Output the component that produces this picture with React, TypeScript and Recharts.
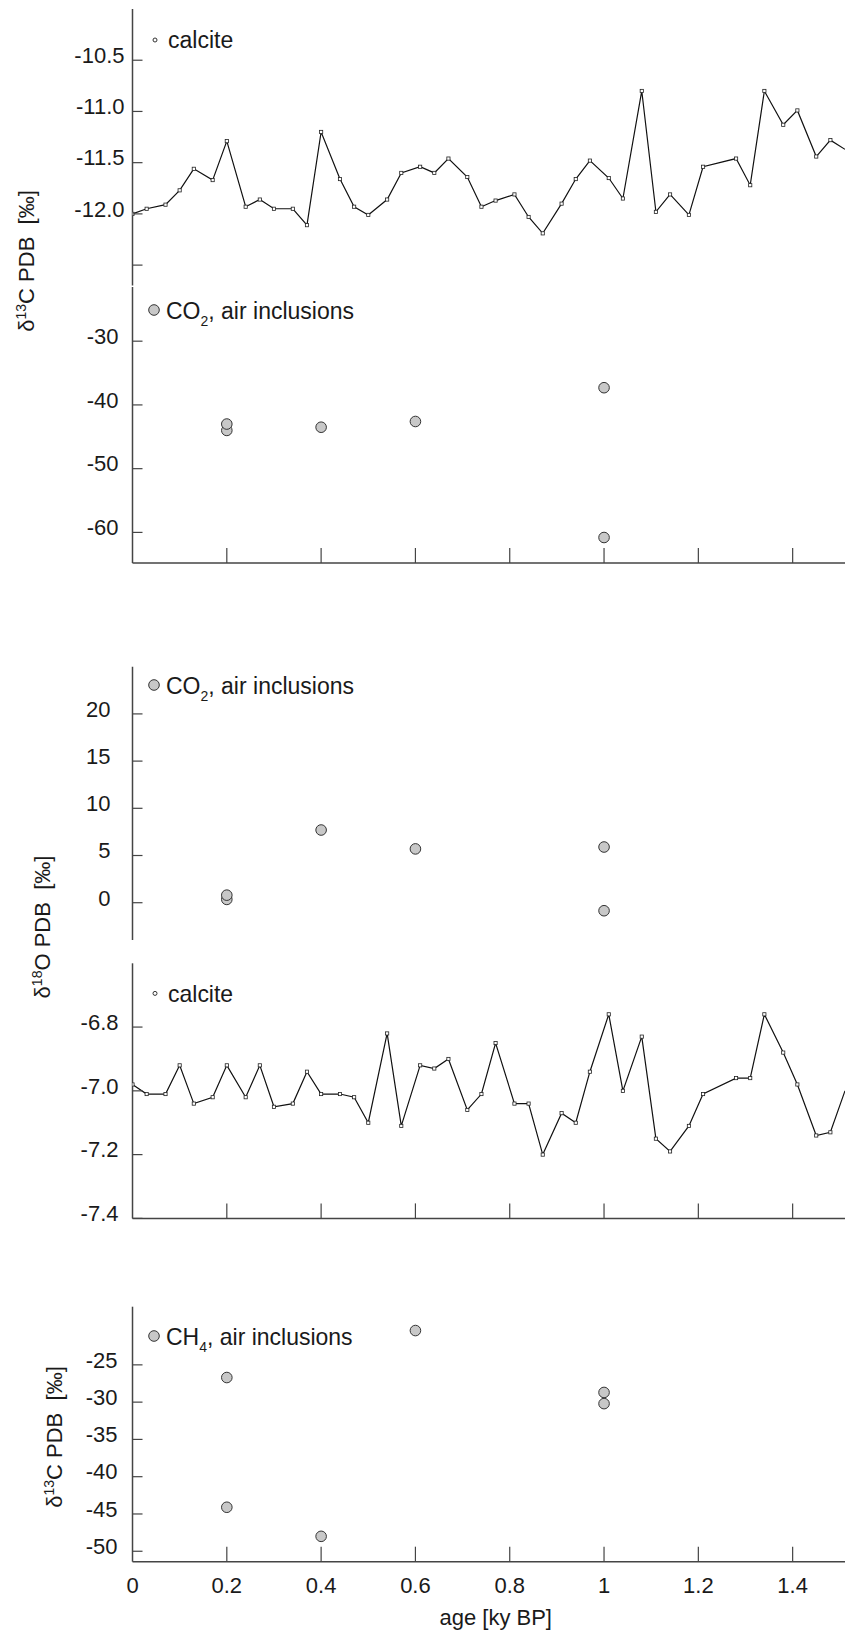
import React from 'react';
import { LineChart, Line, ScatterChart, Scatter, XAxis, YAxis, Customized } from 'recharts';

// ---- data ----
const calciteAges = [0, 0.03, 0.07, 0.1, 0.13, 0.17, 0.2, 0.24, 0.27, 0.3, 0.34, 0.37, 0.4, 0.44, 0.47, 0.5, 0.54, 0.57, 0.61, 0.64, 0.67, 0.71, 0.74, 0.77, 0.81, 0.84, 0.87, 0.91, 0.94, 0.97, 1.01, 1.04, 1.08, 1.11, 1.14, 1.18, 1.21, 1.28, 1.31, 1.34, 1.38, 1.41, 1.45, 1.48, 1.511];
const d13cCalcite = [-12.0, -11.95, -11.91, -11.77, -11.56, -11.67, -11.29, -11.93, -11.86, -11.95, -11.95, -12.11, -11.2, -11.66, -11.93, -12.01, -11.86, -11.6, -11.54, -11.6, -11.46, -11.64, -11.93, -11.87, -11.81, -12.03, -12.19, -11.9, -11.66, -11.48, -11.65, -11.85, -10.8, -11.98, -11.81, -12.01, -11.54, -11.46, -11.72, -10.8, -11.13, -10.99, -11.44, -11.28, -11.37];
const d18oCalcite = [-6.98, -7.01, -7.01, -6.92, -7.04, -7.02, -6.92, -7.02, -6.92, -7.05, -7.04, -6.94, -7.01, -7.01, -7.02, -7.1, -6.82, -7.11, -6.92, -6.93, -6.9, -7.06, -7.01, -6.85, -7.04, -7.04, -7.2, -7.07, -7.1, -6.94, -6.76, -7.0, -6.83, -7.15, -7.19, -7.11, -7.01, -6.96, -6.96, -6.76, -6.88, -6.98, -7.14, -7.13, -7.0];

const inclusionAges = [0.2, 0.2, 0.4, 0.6, 1.0, 1.0];
const d13cCO2 = [-44.0, -43.0, -43.5, -42.6, -37.3, -60.8];
const d18oCO2 = [0.35, 0.8, 7.7, 5.7, 5.9, -0.85];
const ch4Ages = [0.2, 0.2, 0.4, 0.6, 1.0, 1.0];
const d13cCH4 = [-26.7, -44.1, -48.0, -20.4, -28.7, -30.2];

const ageTicks = [0, 0.2, 0.4, 0.6, 0.8, 1, 1.2, 1.4];
const ageDomain = [0, 1.511];
const ticksC13Calcite = [-10.5, -11, -11.5, -12, -12.5];
const ticksC13CO2 = [-30, -40, -50, -60];
const ticksO18CO2 = [0, 5, 10, 15, 20];
const ticksO18Calcite = [-6.8, -7, -7.2, -7.4];
const ticksC13CH4 = [-25, -30, -35, -40, -45, -50];

const c13CalciteData = calciteAges.map((age, i) => ({ age, value: d13cCalcite[i] }));
const o18CalciteData = calciteAges.map((age, i) => ({ age, value: d18oCalcite[i] }));
const c13CO2Data = inclusionAges.map((age, i) => ({ age, value: d13cCO2[i] }));
const o18CO2Data = inclusionAges.map((age, i) => ({ age, value: d18oCO2[i] }));
const c13CH4Data = ch4Ages.map((age, i) => ({ age, value: d13cCH4[i] }));

// ---- styles ----
const FONT = '"Liberation Sans", Arial, Helvetica, sans-serif';
const TEXT = '#1a1a1a';
const AXIS = '#444';
const W = 845;
const YW = 132.5;

const axisLine = { stroke: AXIS, strokeWidth: 1.5 };

// inward tick marks drawn with the tick renderer
const makeYTick = (margin: number, fmt: (v: number) => string) => (p: any) => {
  const axisX = p.x + margin;
  return (
    <g>
      <line x1={axisX} x2={axisX + 10} y1={p.y} y2={p.y} stroke={AXIS} strokeWidth={1.2} />
      <text x={p.x} y={p.y} dy={2.8} textAnchor="end" fontSize={22} fill={TEXT} fontFamily={FONT}>
        {fmt(p.payload.value)}
      </text>
    </g>
  );
};
const makeXTick = (margin: number, showLabel: boolean) => (p: any) => {
  const axisY = p.y - margin;
  const v = p.payload.value;
  return (
    <g>
      {v !== 0 && <line x1={p.x} x2={p.x} y1={axisY} y2={axisY - 15} stroke={AXIS} strokeWidth={1.2} />}
      {showLabel && (
        <text x={p.x} y={p.y} dy={15.6} textAnchor="middle" fontSize={22} fill={TEXT} fontFamily={FONT}>
          {String(v)}
        </text>
      )}
    </g>
  );
};

const fmt1 = (v: number) => v.toFixed(1);
const fmtInt = (v: number) => String(v);

const lastIdx = calciteAges.length - 1;
const calciteDot = (p: any) => {
  if (p.index === lastIdx) return <g key={`d${p.index}`} />;
  return (
    <rect key={`d${p.index}`} x={p.cx - 1.6} y={p.cy - 1.6} width={3.2} height={3.2} fill="#fff" stroke="#222" strokeWidth={0.8} />
  );
};
const circleShape = (p: any) => (
  <circle cx={p.cx} cy={p.cy} r={5.3} fill="#c8c8c8" stroke="#333" strokeWidth={1} />
);

const CalciteLegend = ({ y }: { y: number }) => (
  <g>
    <circle cx={155} cy={y - 8.3} r={2} fill="#fff" stroke="#333" strokeWidth={1} />
    <text x={168} y={y} fontSize={23} fill={TEXT} fontFamily={FONT}>calcite</text>
  </g>
);
const GasLegend = ({ y, gas, sub }: { y: number; gas: string; sub: string }) => (
  <g>
    <circle cx={154} cy={y - 9} r={5.3} fill="#c8c8c8" stroke="#333" strokeWidth={1} />
    <text x={166} y={y} fontSize={23} fill={TEXT} fontFamily={FONT} style={{ whiteSpace: 'pre' }}>
      {gas}
      <tspan fontSize={14} dy={7}>{sub}</tspan>
      <tspan dy={-7}>, air inclusions</tspan>
    </text>
  </g>
);

const Title = ({ x, y, iso, el }: { x: number; y: number; iso: string; el: string }) => (
  <text x={x} y={y} transform={`rotate(-90 ${x} ${y})`} textAnchor="middle" fontSize={22} fill={TEXT} fontFamily={FONT} style={{ whiteSpace: 'pre' }}>
    δ<tspan fontSize={14} dy={-8}>{iso}</tspan>
    <tspan dy={8}>{`${el} PDB  [‰]`}</tspan>
  </text>
);

export default function App() {
  return (
    <div style={{ position: 'absolute', left: 0, top: 0, width: W, height: 1633, background: '#fff', fontFamily: FONT, overflow: 'hidden' }}>
      {/* Panel 1: d13C calcite */}
      <div style={{ position: 'absolute', left: 0, top: 0 }}>
        <LineChart width={W} height={290} data={c13CalciteData} margin={{ top: 9, right: 0, bottom: 4.4, left: 0 }}>
          <XAxis type="number" dataKey="age" domain={ageDomain} hide allowDataOverflow />
          <YAxis type="number" domain={[-12.7, -10]} ticks={ticksC13Calcite} interval={0} allowDataOverflow width={YW}
            tickSize={0} tickMargin={8} axisLine={axisLine} tickLine={false}
            tick={makeYTick(8, (v) => (v === -12.5 ? '' : fmt1(v)))} />
          <Line type="linear" dataKey="value" stroke="#111" strokeWidth={1.2} dot={calciteDot} isAnimationActive={false} />
          <Customized component={() => <CalciteLegend y={48.3} />} />
        </LineChart>
      </div>

      {/* Panel 2: d13C CO2 */}
      <div style={{ position: 'absolute', left: 0, top: 280 }}>
        <ScatterChart width={W} height={285} margin={{ top: 7, right: 0, bottom: 0, left: 0 }}>
          <XAxis type="number" dataKey="age" domain={ageDomain} ticks={ageTicks} interval={0} allowDataOverflow height={2}
            tickSize={0} tickMargin={0} axisLine={axisLine} tickLine={false} tick={makeXTick(0, false)} />
          <YAxis type="number" dataKey="value" domain={[-64.8, -21.5]} ticks={ticksC13CO2} interval={0} allowDataOverflow width={YW}
            tickSize={0} tickMargin={14} axisLine={axisLine} tickLine={false} tick={makeYTick(14, fmtInt)} />
          <Scatter data={c13CO2Data} shape={circleShape} isAnimationActive={false} />
          <Customized component={() => <GasLegend y={39} gas="CO" sub="2" />} />
        </ScatterChart>
      </div>

      {/* Panel 3: d18O CO2 */}
      <div style={{ position: 'absolute', left: 0, top: 650 }}>
        <ScatterChart width={W} height={294} margin={{ top: 16.7, right: 0, bottom: 4, left: 0 }}>
          <XAxis type="number" dataKey="age" domain={ageDomain} hide allowDataOverflow />
          <YAxis type="number" dataKey="value" domain={[-3.95, 25]} ticks={ticksO18CO2} interval={0} allowDataOverflow width={YW}
            tickSize={0} tickMargin={22} axisLine={axisLine} tickLine={false} tick={makeYTick(22, fmtInt)} />
          <Scatter data={o18CO2Data} shape={circleShape} isAnimationActive={false} />
          <Customized component={() => <GasLegend y={44} gas="CO" sub="2" />} />
        </ScatterChart>
      </div>

      {/* Panel 4: d18O calcite */}
      <div style={{ position: 'absolute', left: 0, top: 950 }}>
        <LineChart width={W} height={290.4} data={o18CalciteData} margin={{ top: 13.3, right: 0, bottom: 20, left: 0 }}>
          <XAxis type="number" dataKey="age" domain={ageDomain} ticks={ageTicks} interval={0} allowDataOverflow height={2}
            tickSize={0} tickMargin={0} axisLine={axisLine} tickLine={false} tick={makeXTick(0, false)} />
          <YAxis type="number" domain={[-7.4, -6.6]} ticks={ticksO18Calcite} interval={0} allowDataOverflow width={YW}
            tickSize={0} tickMargin={14} axisLine={axisLine} tickLine={false} tick={makeYTick(14, fmt1)} />
          <Line type="linear" dataKey="value" stroke="#111" strokeWidth={1.2} dot={calciteDot} isAnimationActive={false} />
          <Customized component={() => <CalciteLegend y={51.7} />} />
        </LineChart>
      </div>

      {/* Panel 5: d13C CH4 */}
      <div style={{ position: 'absolute', left: 0, top: 1290 }}>
        <ScatterChart width={W} height={341.7} margin={{ top: 16.7, right: 0, bottom: 0, left: 0 }}>
          <XAxis type="number" dataKey="age" domain={ageDomain} ticks={ageTicks} interval={0} allowDataOverflow height={70}
            tickSize={0} tickMargin={16} axisLine={axisLine} tickLine={false} tick={makeXTick(16, true)}
            label={{ value: 'age [ky BP]', position: 'insideBottom', offset: 6.7, dx: 7, fill: TEXT, fontSize: 22 }} />
          <YAxis type="number" dataKey="value" domain={[-51.4, -17.2]} ticks={ticksC13CH4} interval={0} allowDataOverflow width={YW}
            tickSize={0} tickMargin={15} axisLine={axisLine} tickLine={false} tick={makeYTick(15, fmtInt)} />
          <Scatter data={c13CH4Data} shape={circleShape} isAnimationActive={false} />
          <Customized component={() => <GasLegend y={55} gas="CH" sub="4" />} />
        </ScatterChart>
      </div>

      {/* Y axis titles */}
      <svg width={W} height={1633} style={{ position: 'absolute', left: 0, top: 0, pointerEvents: 'none' }}>
        <Title x={34} y={261} iso="13" el="C" />
        <Title x={49.5} y={927} iso="18" el="O" />
        <Title x={62} y={1437} iso="13" el="C" />
      </svg>
    </div>
  );
}
